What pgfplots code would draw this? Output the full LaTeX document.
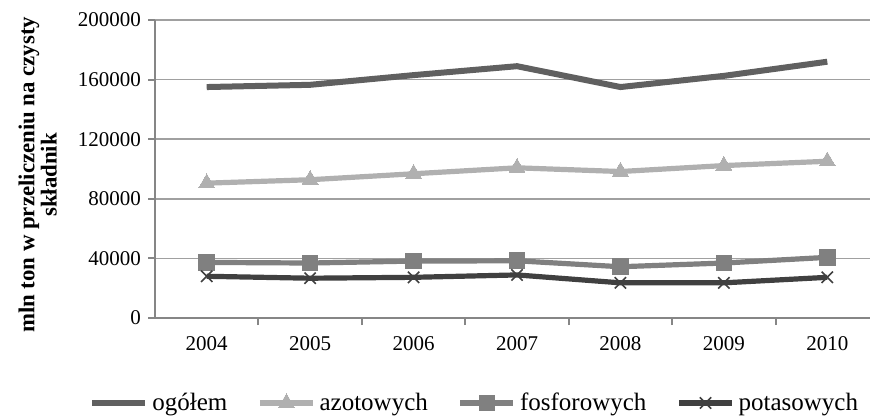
\documentclass[border=0pt]{standalone}
\usepackage{pgfplots}
\pgfplotsset{compat=1.18}
\usepackage{fontspec}
\setmainfont{Liberation Serif}

\definecolor{cogolem}{RGB}{96,96,96}
\definecolor{cazot}{RGB}{176,176,176}
\definecolor{cfosf}{RGB}{128,128,128}
\definecolor{cpotas}{RGB}{64,64,64}
\definecolor{cgrid}{RGB}{160,160,160}
\definecolor{caxis}{RGB}{134,134,134}

\begin{document}
\begin{tikzpicture}
\useasboundingbox (0,0) rectangle (435pt,208.5pt);
\begin{axis}[
    at={(77.5pt,49.5pt)}, anchor=south west,
    scale only axis,
    width=362pt, height=149pt,
    xmin=-0.5, xmax=6.5,
    ymin=0, ymax=200000,
    axis lines*=left,
    axis line style={caxis, line width=1pt},
    xtick={0,...,6},
    xticklabels={2004,2005,2006,2007,2008,2009,2010},
    major x tick style={draw=none},
    minor xtick={0.5,1.5,...,6.5},
    ytick={0,40000,80000,120000,160000,200000},
    yticklabels={0,40000,80000,120000,160000,200000},
    scaled y ticks=false,
    tick align=outside,
    major tick length=3.5pt,
    minor tick length=3.5pt,
    tick style={caxis, line width=1pt},
    ymajorgrids,
    major grid style={cgrid, line width=0.8pt},
    ticklabel style={font=\fontsize{10.5}{12}\selectfont},
    xticklabel style={yshift=-2pt},
    ylabel={mln ton w przeliczeniu na czysty\\składnik},
    ylabel style={at={(axis description cs:-0.162,0.48)}, anchor=center,
        align=center, font=\fontsize{11.4}{11.2}\selectfont\bfseries},
    legend columns=4,
    legend style={at={(axis description cs:0.443,-0.285)}, anchor=center,
        draw=none, fill=none, font=\fontsize{12.5}{14}\selectfont,
        /tikz/every even column/.append style={column sep=13pt},
        /tikz/every odd column/.append style={column sep=0pt}},
    legend image code/.code={\draw[mark repeat=2,mark phase=2,#1]
        plot coordinates {(0pt,0pt) (13.25pt,0pt) (26.5pt,0pt)};},
    clip=false,
]
\addplot[cogolem, line width=3pt, no markers] coordinates {
    (0,155000) (1,156500) (2,163000) (3,169000) (4,155000) (5,162500) (6,172000)
};
\addplot[cazot, line width=2.6pt, mark=triangle*, mark size=4.6pt,
    mark options={line width=0pt}] coordinates {
    (0,90500) (1,92800) (2,96800) (3,100800) (4,98300) (5,102300) (6,105200)
};
\addplot[cfosf, line width=2.6pt, mark=square*, mark size=3.9pt,
    mark options={line width=0pt}] coordinates {
    (0,37300) (1,36900) (2,38200) (3,38400) (4,34400) (5,36900) (6,40700)
};
\addplot[cpotas, line width=2.6pt, mark=x, mark size=4pt,
    mark options={line width=0.8pt}] coordinates {
    (0,28000) (1,26700) (2,27300) (3,28900) (4,23600) (5,23600) (6,27300)
};
\legend{ogółem, azotowych, fosforowych, potasowych}
\end{axis}
\end{tikzpicture}
\end{document}
